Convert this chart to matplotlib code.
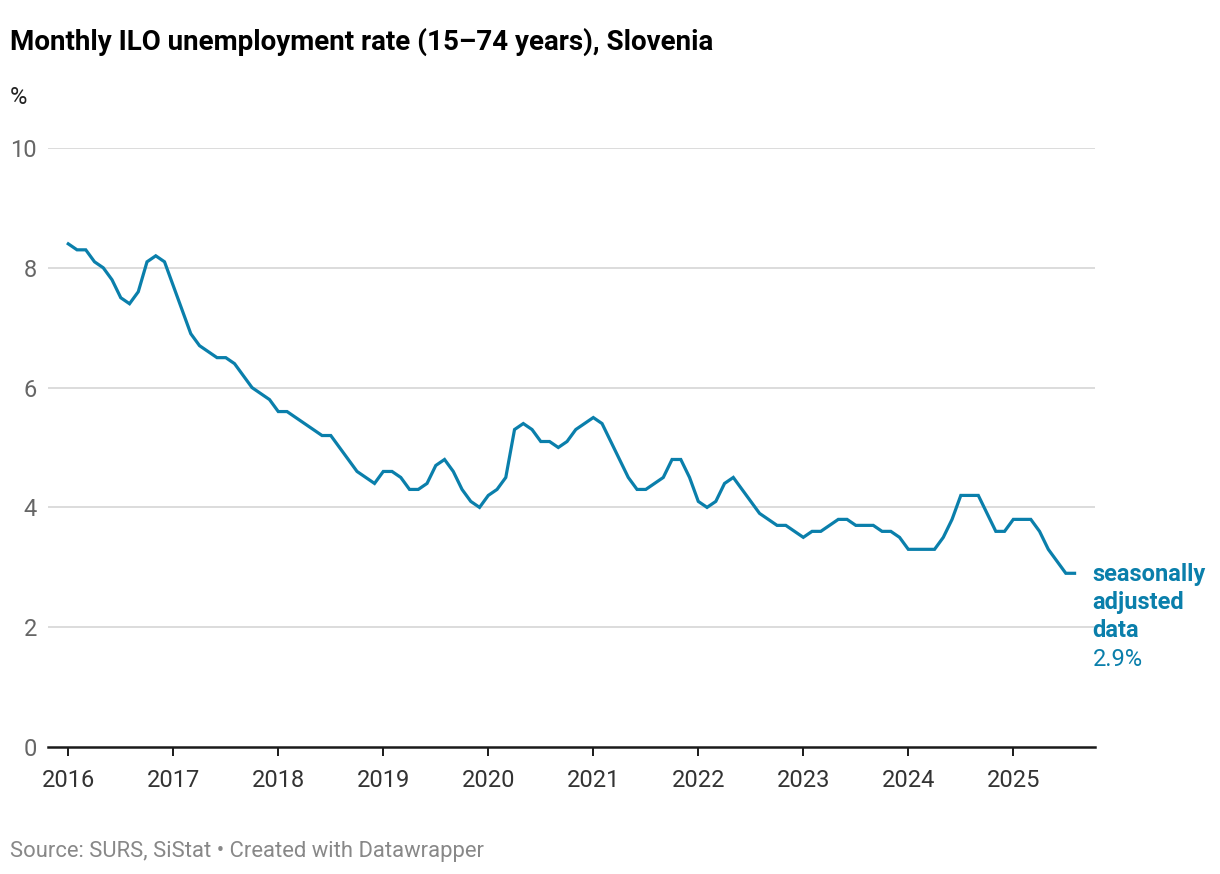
import numpy as np
import matplotlib
matplotlib.use("Agg")
import matplotlib.pyplot as plt

plt.rcParams["font.family"] = ["Roboto", "DejaVu Sans"]

# monthly ILO unemployment rate, seasonally adjusted (Jan 2016 .. Aug 2025)
rate_2016 = [8.4, 8.3, 8.3, 8.1, 8.0, 7.8, 7.5, 7.4, 7.6, 8.1, 8.2, 8.1]
rate_2017 = [7.7, 7.3, 6.9, 6.7, 6.6, 6.5, 6.5, 6.4, 6.2, 6.0, 5.9, 5.8]
rate_2018 = [5.6, 5.6, 5.5, 5.4, 5.3, 5.2, 5.2, 5.0, 4.8, 4.6, 4.5, 4.4]
rate_2019 = [4.6, 4.6, 4.5, 4.3, 4.3, 4.4, 4.7, 4.8, 4.6, 4.3, 4.1, 4.0]
rate_2020 = [4.2, 4.3, 4.5, 5.3, 5.4, 5.3, 5.1, 5.1, 5.0, 5.1, 5.3, 5.4]
rate_2021 = [5.5, 5.4, 5.1, 4.8, 4.5, 4.3, 4.3, 4.4, 4.5, 4.8, 4.8, 4.5]
rate_2022 = [4.1, 4.0, 4.1, 4.4, 4.5, 4.3, 4.1, 3.9, 3.8, 3.7, 3.7, 3.6]
rate_2023 = [3.5, 3.6, 3.6, 3.7, 3.8, 3.8, 3.7, 3.7, 3.7, 3.6, 3.6, 3.5]
rate_2024 = [3.3, 3.3, 3.3, 3.3, 3.5, 3.8, 4.2, 4.2, 4.2, 3.9, 3.6, 3.6]
rate_2025 = [3.8, 3.8, 3.8, 3.6, 3.3, 3.1, 2.9, 2.9]

rates = (rate_2016 + rate_2017 + rate_2018 + rate_2019 + rate_2020
         + rate_2021 + rate_2022 + rate_2023 + rate_2024 + rate_2025)
start_year = 2016
years = list(range(2016, 2026))
y_ticks = [0, 2, 4, 6, 8, 10]
label_lines = ["seasonally", "adjusted", "data"]

BLUE = "#0a7fab"

x = start_year + np.arange(len(rates)) / 12.0

fig = plt.figure(figsize=(12.2, 8.74), dpi=100)
ax = fig.add_axes([48 / 1220, 127 / 874, (1095 - 48) / 1220, (747 - 148) / 874])

for yv in y_ticks[1:]:
    ax.axhline(yv, color="#d9d9d9", lw=1.3, zorder=1)

ax.plot(x, rates, color=BLUE, lw=2.3, solid_joinstyle="miter", zorder=3)

ax.set_xlim(2015.807, 2025.778)
ax.set_ylim(0, 10)
ax.set_xticks(years)
ax.set_xticklabels([str(y) for y in years], fontsize=17, color="#333333")
ax.set_yticks(y_ticks)
ax.set_yticklabels([str(v) for v in y_ticks], fontsize=17, color="#666666")
ax.tick_params(axis="x", length=6.5, width=1.4, color="#1a1a1a", pad=9)
ax.tick_params(axis="y", length=0, pad=8)
for s in ["top", "right", "left"]:
    ax.spines[s].set_visible(False)
ax.spines["bottom"].set_linewidth(1.8)
ax.spines["bottom"].set_color("#1a1a1a")

# end label, one line per annotation (baselines 28 px apart)
for i, line in enumerate(label_lines):
    ax.annotate(line, (x[-1], rates[-1]),
                xytext=(13, -5.8 - 20.2 * i), textcoords="offset points",
                ha="left", va="baseline", fontsize=17, fontweight="bold",
                color=BLUE, annotation_clip=False)
ax.annotate(f"{rates[-1]}%", (x[-1], rates[-1]),
            xytext=(13, -5.8 - 20.2 * len(label_lines)), textcoords="offset points",
            ha="left", va="baseline", fontsize=17, color=BLUE,
            annotation_clip=False)

fig.text(10 / 1220, 1 - 42 / 874, "Monthly ILO unemployment rate (15–74 years), Slovenia",
         fontsize=20, fontweight="bold", color="#000000", ha="left", va="center")
fig.text(10 / 1220, 1 - 97 / 874, "%", fontsize=17, color="#222222", ha="left", va="center")
fig.text(10 / 1220, 1 - 851 / 874, "Source: SURS, SiStat • Created with Datawrapper",
         fontsize=15.8, color="#888888", ha="left", va="center")

fig.savefig("out.png", dpi=100, facecolor="white")
